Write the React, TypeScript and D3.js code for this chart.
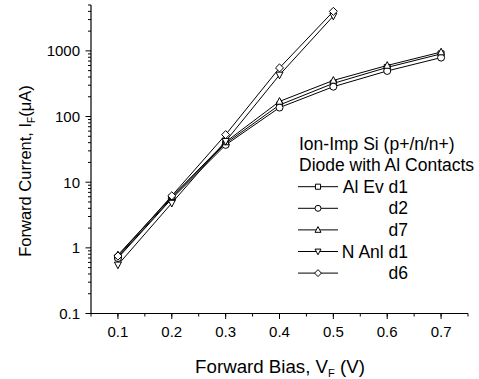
import React from "react";
import * as d3 from "d3";

const xValues = [0.1, 0.2, 0.3, 0.4, 0.5, 0.6, 0.7];
const alEvD1 = [0.72, 5.8, 39, 150, 320, 560, 900];
const d2 = [0.7, 5.6, 37, 137, 285, 495, 790];
const d7 = [0.78, 6.0, 41, 170, 355, 600, 960];
const nAnlD1 = [0.55, 4.8, 42, 430, 3400];
const d6 = [0.75, 6.2, 53, 550, 4000];

const xTicks = [0.1, 0.2, 0.3, 0.4, 0.5, 0.6, 0.7];
const yTicks = [0.1, 1, 10, 100, 1000];
const yTickLabels = ["0.1", "1", "10", "100", "1000"];

const legendTitle1 = "Ion-Imp Si (p+/n/n+)";
const legendTitle2 = "Diode with Al Contacts";

type Shape = "square" | "circle" | "up" | "down" | "diamond";

const series: { name: string; values: number[]; shape: Shape }[] = [
  { name: "Al Ev d1", values: alEvD1, shape: "square" },
  { name: "d2", values: d2, shape: "circle" },
  { name: "d7", values: d7, shape: "up" },
  { name: "N Anl d1", values: nAnlD1, shape: "down" },
  { name: "d6", values: d6, shape: "diamond" },
];

function markerPath(shape: Shape, s: number): string {
  const h = s / 2;
  switch (shape) {
    case "square":
      return `M${-h * 0.85},${-h * 0.85}H${h * 0.85}V${h * 0.85}H${-h * 0.85}Z`;
    case "circle":
      return `M${h},0A${h},${h} 0 1,1 ${-h},0A${h},${h} 0 1,1 ${h},0Z`;
    case "up":
      return `M0,${-h * 1.1}L${h},${h * 0.8}L${-h},${h * 0.8}Z`;
    case "down":
      return `M0,${h * 1.1}L${h},${-h * 0.8}L${-h},${-h * 0.8}Z`;
    case "diamond":
      return `M0,${-h * 1.15}L${h * 1.15},0L0,${h * 1.15}L${-h * 1.15},0Z`;
  }
}

export default function App() {
  const W = 479;
  const H = 379;
  const x = d3.scaleLinear().domain([0.05, 0.75]).range([91, 468]);
  const y = d3.scaleLog().domain([0.1, 5000]).range([313.5, 5]);

  const line = d3
    .line<[number, number]>()
    .x((d) => x(d[0]))
    .y((d) => y(d[1]));

  const xMinor = d3.range(0.05, 0.751, 0.05).map((v) => +v.toFixed(2));
  const yMinor: number[] = [];
  for (let e = -1; e <= 3; e++) {
    for (let m = 2; m <= 9; m++) {
      const v = m * Math.pow(10, e);
      if (v <= 5000) yMinor.push(v);
    }
  }

  const font = "'Liberation Sans', Arial, sans-serif";
  const legX = 298;
  const legY0 = 192.7;
  const legDy = 21.6;

  return (
    <svg width={W} height={H} style={{ position: "absolute", left: 0, top: 0, background: "#fff" }} fontFamily={font}>
      <rect x={0} y={0} width={W} height={H} fill="#fff" />
      {/* axes */}
      <line x1={91} x2={91} y1={y(5000)} y2={313.5} stroke="#000" strokeWidth={1.2} />
      <line x1={91} x2={468} y1={313.5} y2={313.5} stroke="#000" strokeWidth={1.2} />
      {xMinor.map((v, i) => (
        <line key={"xm" + i} x1={x(v)} x2={x(v)} y1={313.5} y2={316.5} stroke="#000" strokeWidth={1} />
      ))}
      {xTicks.map((v, i) => (
        <g key={"xt" + i}>
          <line x1={x(v)} x2={x(v)} y1={313.5} y2={319} stroke="#000" strokeWidth={1} />
          <text x={x(v)} y={336.5} fontSize={15} textAnchor="middle">
            {v.toFixed(1)}
          </text>
        </g>
      ))}
      {yMinor.map((v, i) => (
        <line key={"ym" + i} x1={88} x2={91} y1={y(v)} y2={y(v)} stroke="#000" strokeWidth={1} />
      ))}
      {yTicks.map((v, i) => (
        <g key={"yt" + i}>
          <line x1={85.5} x2={91} y1={y(v)} y2={y(v)} stroke="#000" strokeWidth={1} />
          <text x={80} y={y(v) + 5.5} fontSize={15} textAnchor="end">
            {yTickLabels[i]}
          </text>
        </g>
      ))}
      {/* axis titles */}
      <text x={280} y={372.5} fontSize={18.7} textAnchor="middle">
        Forward Bias, V<tspan fontSize={11} dy={4}>F</tspan>
        <tspan dy={-4}> (V)</tspan>
      </text>
      <text transform="translate(30.5,171) rotate(-90)" fontSize={16.5} textAnchor="middle">
        Forward Current, I<tspan fontSize={10} dy={4}>F</tspan>
        <tspan dy={-4}>(μA)</tspan>
      </text>
      {/* series */}
      {series.map((s) => {
        const pts: [number, number][] = s.values.map((v, i) => [xValues[i], v]);
        return (
          <g key={s.name}>
            <path d={line(pts) || ""} fill="none" stroke="#000" strokeWidth={1} />
            {pts.map((p, i) => (
              <path
                key={i}
                d={markerPath(s.shape, 7)}
                transform={`translate(${x(p[0])},${y(p[1])})`}
                fill="#fff"
                stroke="#000"
                strokeWidth={1}
              />
            ))}
          </g>
        );
      })}
      {/* legend */}
      <text x={299} y={149.5} fontSize={17.5}>
        {legendTitle1}
      </text>
      <text x={299} y={171.1} fontSize={17.5}>
        {legendTitle2}
      </text>
      {series.map((s, i) => {
        const cy = legY0 + i * legDy - 6;
        return (
          <g key={"leg" + i}>
            <line x1={legX} x2={legX + 40} y1={cy} y2={cy} stroke="#000" strokeWidth={1} />
            <path
              d={markerPath(s.shape, 6)}
              transform={`translate(${legX + 20},${cy})`}
              fill="#fff"
              stroke="#000"
              strokeWidth={1}
            />
            <text x={408} y={legY0 + i * legDy} fontSize={17.5} textAnchor="end">
              {s.name}
            </text>
          </g>
        );
      })}
    </svg>
  );
}
